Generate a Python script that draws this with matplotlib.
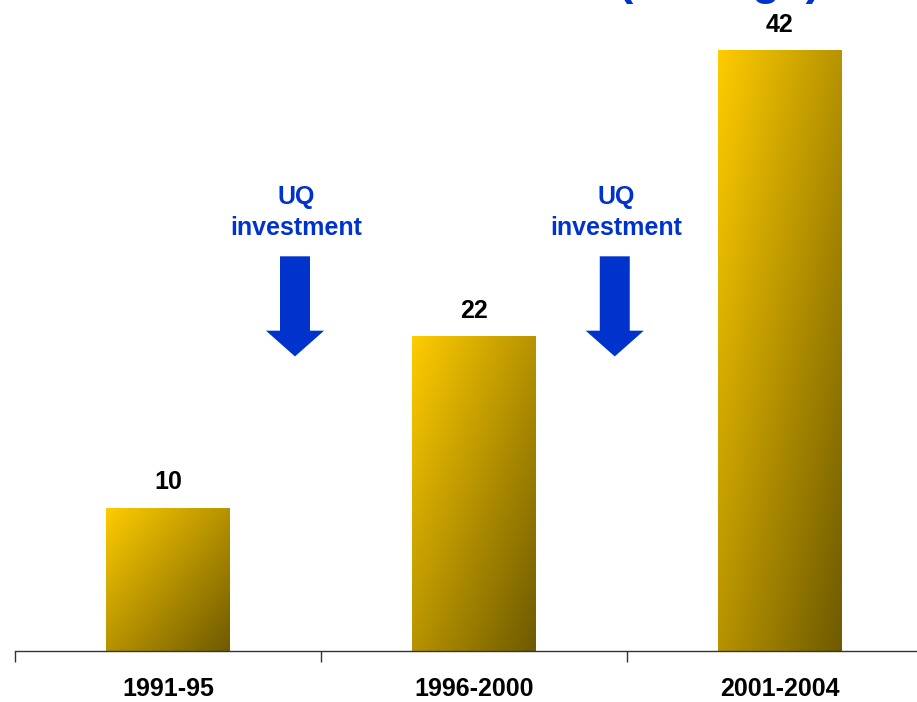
import numpy as np
import matplotlib
matplotlib.use("Agg")
import matplotlib.pyplot as plt
from matplotlib.patches import FancyArrow

plt.rcParams['font.family'] = ['Liberation Sans', 'DejaVu Sans']

# data
periods = ['1991-95', '1996-2000', '2001-2004']
values = [10, 22, 42]
arrow_x = [0.415, 1.46]          # between the bars, category units
arrow_label = 'UQ\ninvestment'
title_tail = '(average)'         # only the bottom of the title is visible

blue = '#0033CC'
light = np.array([255, 204, 0]) / 255.0
dark = np.array([110, 90, 0]) / 255.0

fig = plt.figure(figsize=(9.17, 7.02), dpi=100)
ax = fig.add_axes([15 / 917, 51 / 702, 918 / 917, 651 / 702])

x = np.arange(len(periods))
bars = ax.bar(x, values, width=0.405, color='none', edgecolor='none')

# diagonal gradient: bright top-left, dark bottom-right
n = 200
u = np.linspace(0, 1, n)
uu, vv = np.meshgrid(u, u)
t = (uu + vv) / 2
grad = light[None, None, :] * (1 - t[..., None]) + dark[None, None, :] * t[..., None]
for b in bars:
    x0, w, h = b.get_x(), b.get_width(), b.get_height()
    im = ax.imshow(grad, extent=[x0, x0 + w, 0, h], origin='upper',
                   aspect='auto', interpolation='bilinear', zorder=2)
    im.set_clip_path(b)

for xi, v in zip(x, values):
    ax.annotate(str(v), (xi, v), xytext=(0, 18.5), textcoords='offset points',
                ha='center', va='center', fontsize=18, fontweight='bold', color='black')

for ax_x in arrow_x:
    ax.add_patch(FancyArrow(ax_x, 27.6, 0, -7.0, width=0.098, head_width=0.19,
                            head_length=1.8, length_includes_head=True,
                            color=blue, linewidth=0, zorder=3))
    ax.text(ax_x + 0.005, 30.65, arrow_label, ha='center', va='center', fontsize=18,
            fontweight='bold', color=blue, linespacing=1.38)

ax.set_xlim(-0.5, 2.5)
ax.set_ylim(0, 651 / 14.3)

for s in ['left', 'right', 'top']:
    ax.spines[s].set_visible(False)
ax.spines['bottom'].set_color('#333333')
ax.spines['bottom'].set_linewidth(1.0)
ax.set_yticks([])
ax.set_xticks(x)
ax.set_xticklabels(periods, fontsize=18, fontweight='bold')
ax.tick_params(axis='x', which='major', length=0, pad=19)
ax.set_xticks([-0.5, 0.5, 1.5, 2.5], minor=True)
ax.tick_params(axis='x', which='minor', length=8, width=1.0, color='#333333', direction='out')

fig.text(822 / 917, 1 + 6 / 702, title_tail, ha='right', va='baseline',
         fontsize=33, fontweight='bold', color=blue)

fig.savefig('out.png', dpi=100)
